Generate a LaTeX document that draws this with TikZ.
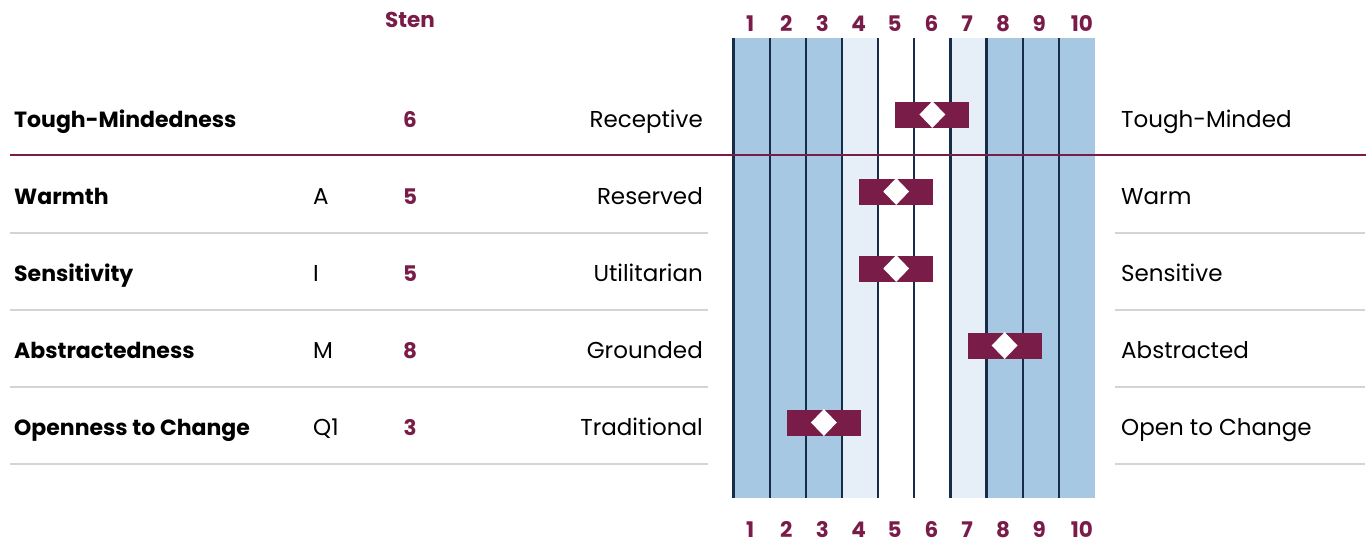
\documentclass[tikz,border=0pt]{standalone}
\usepackage{fontspec}
\setmainfont{Poppins}
\usetikzlibrary{shapes.geometric,positioning}
\definecolor{stenred}{RGB}{122,28,72}
\definecolor{band}{RGB}{167,200,226}
\definecolor{bandlight}{RGB}{230,239,248}
\definecolor{gridline}{RGB}{22,44,72}
\definecolor{rule}{RGB}{212,212,212}
\tikzset{
  txt/.style={inner sep=0pt,anchor=base,font=\fontsize{23}{26}\selectfont},
  num/.style={txt,text=stenred,font=\fontsize{21.5}{24}\selectfont\bfseries},
  scorebox/.style={fill=stenred,minimum width=74pt,minimum height=26pt,inner sep=0pt},
  scorepoint/.style={diamond,fill=white,minimum width=26pt,minimum height=27pt,inner sep=0pt}
}
\begin{document}
\begin{tikzpicture}[x=1pt,y=-1pt]
\useasboundingbox [fill=white] (0,0) rectangle (1368,543);
% sten columns
\foreach \c/\col in {1/band,2/band,3/band,4/bandlight,5/white,6/white,7/bandlight,8/band,9/band,10/band}
  \fill[\col] ({733.5+36.15*(\c-1)},38) rectangle ++(36.15,460);
\foreach \c/\dx in {1/-1.5,2/-1.5,3/-1.5,4/-1.5,5/-1.5,6/-1,7/-1.5,8/-1.5,9/-1.5,10/5}{
  \draw[gridline, line width=2.2pt] ({733.5+36.15*(\c-1)},38) -- ++(0,460);
  \node[num] (top\c) at ({751.6+36.15*(\c-1)+\dx},32) {\c};
  \node[num] (bot\c) at ({751.6+36.15*(\c-1)+\dx},537) {\c};
}
\node[num] (sten) at (410,28) {Sten};
% scales
\foreach \i/\scale/\code/\s/\low/\high in {0/Tough-Mindedness//6/Receptive/Tough-Minded,
  1/Warmth/A/5/Reserved/Warm, 2/Sensitivity/I/5/Utilitarian/Sensitive,
  3/Abstractedness/M/8/Grounded/Abstracted, 4/Openness to Change/Q1/3/Traditional/Open to Change}{
  \node[txt,anchor=base west,font=\fontsize{22}{25}\selectfont\bfseries] (scale\i) at (14,127+77*\i) {\scale};
  \node[txt,anchor=base west] (code\i) at (313,127+77*\i) {\code};
  \node[num] (score\i) at (410,127+77*\i) {\s};
  \node[txt,anchor=base east] (low\i) at (703,127+77*\i) {\low};
  \node[txt,anchor=base west] (high\i) at (1121,127+77*\i) {\high};
  \node[scorebox] (box\i) at ({733.5+36.15*(\s-0.5)},114.5+77*\i) {};
  \node[scorepoint] (pt\i) at (box\i) {};
}
\foreach \i in {1,...,4}{
  \draw[rule, line width=1.6pt] (10,156+77*\i) -- (708,156+77*\i);
  \draw[rule, line width=1.6pt] (1115,156+77*\i) -- (1365,156+77*\i);
}
\draw[stenred, line width=2pt] (10,155) -- (1366,155);
\end{tikzpicture}
\end{document}
